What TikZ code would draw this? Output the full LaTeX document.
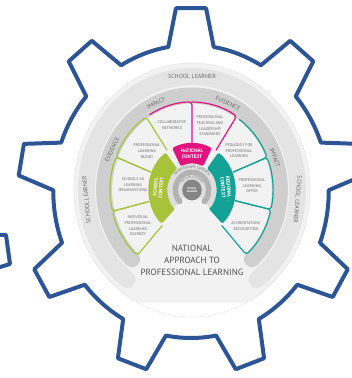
\documentclass[tikz,border=0pt]{standalone}
\usepackage{fontspec}
\setmainfont{PT Sans}
\usetikzlibrary{decorations.text}
\definecolor{gearblue}{HTML}{2D5596}
\definecolor{napgreen}{HTML}{A6C33A}
\definecolor{napmag}{HTML}{E2137F}
\definecolor{napteal}{HTML}{14A296}
\definecolor{ringdark}{HTML}{CFCFCF}
\definecolor{ringlight}{HTML}{E4E4E4}
\definecolor{discfill}{HTML}{F2F2F2}
\definecolor{hubdark}{HTML}{858585}
\definecolor{hubmid}{HTML}{B3B3B3}
\definecolor{hubpale}{HTML}{DEDEDE}
\definecolor{labelgray}{HTML}{6A6A6A}
\definecolor{titlegray}{HTML}{505050}

\tikzset{
  gearline/.style={draw=gearblue, line width=4pt, line join=round},
  petal/.style={line width=1.2pt, rounded corners=3pt, line cap=round},
  band/.style={line cap=round, line width=#1},
  ringtext/.style={font=\fontsize{6}{6.5}\selectfont, text=labelgray, inner sep=0pt},
  petaltext/.style={font=\fontsize{4}{5.6}\selectfont, text=labelgray, align=center, inner sep=0.5pt},
  contexttext/.style={font=\bfseries\fontsize{5}{5.6}\selectfont, text=white, align=center, inner sep=0.5pt},
}

\begin{document}
\begin{tikzpicture}[x=1pt,y=1pt]
\useasboundingbox (0,0) rectangle (352,378);

% the gear
\begin{scope}[shift={(191,186.5)}, xscale=0.94]
  \draw[gearline] (80.5:146.5) \foreach \t in {90,130,...,410} {
      -- (\t-9.5:146.5) -- (\t-5:184) -- (\t+5:184) -- (\t+9.5:146.5)
      arc[start angle=\t+9.5, end angle=\t+30.5, radius=146.5]} -- cycle;
\end{scope}
% piece of a second gear
\draw[gearline] (-3,143) -- (6,143) -- (10,114) -- (-3,110);

% disc and outer rings
\begin{scope}[shift={(192,188)}, xscale=0.93]
  \begin{scope}
    \clip (-130,-113) rectangle (130,130);
    \fill[discfill] (0,0) circle[radius=127];
  \end{scope}
  \draw[gray!45, densely dotted, line width=0.5pt] (0,0) circle[radius=127];
  \draw[ringlight, band=17pt] (-52:113.5) arc[start angle=-52, end angle=232, radius=113.5];
  \draw[ringdark, band=16pt] (-47:94.5) arc[start angle=-47, end angle=227, radius=94.5];

  \node[ringtext] (sltop) at (90:114) {SCHOOL LEARNER};
  \node[ringtext, rotate=95] (slleft) at (185:114) {SCHOOL LEARNER};
  \node[ringtext, rotate=-95] (slright) at (-5:114) {SCHOOL LEARNER};
  \node[ringtext, rotate=24] (impactl) at (114:95) {IMPACT};
  \node[ringtext, rotate=-24] (evidencer) at (66:95) {EVIDENCE};
  \node[ringtext, rotate=65] (evidencel) at (155:95) {EVIDENCE};
  \node[ringtext, rotate=-70] (impactr) at (20:95) {IMPACT};

  % hub
  \draw[hubpale, line width=6pt] (-42:23.5) arc[start angle=-42, end angle=222, radius=23.5];
  \draw[hubmid, band=6pt] (-40:17.5) arc[start angle=-40, end angle=220, radius=17.5];
  \draw[hubpale, line width=4.5pt] (-40:12.5) arc[start angle=-40, end angle=220, radius=12.5];
  \fill[hubdark] (0,0) circle[radius=10.5];

  % context blocks
  \fill[napgreen, rounded corners=1.5pt] (127:26.5) -- (127:47) arc[start angle=127, end angle=226, radius=47]
      -- (226:26.5) arc[start angle=226, end angle=127, radius=26.5] -- cycle;
  \fill[napmag, rounded corners=1.5pt] (63:26.5) -- (63:47) arc[start angle=63, end angle=117, radius=47]
      -- (117:26.5) arc[start angle=117, end angle=63, radius=26.5] -- cycle;
  \fill[napteal, rounded corners=1.5pt] (-46:26.5) -- (-46:47) arc[start angle=-46, end angle=53, radius=47]
      -- (53:26.5) arc[start angle=53, end angle=-46, radius=26.5] -- cycle;

  % petals
  \draw[napgreen, petal] (124:48) -- (124:88) arc[start angle=124, end angle=158, radius=88] -- (158:48);
  \draw[napgreen, petal] (158:48) -- (158:88) arc[start angle=158, end angle=194, radius=88] -- (194:48);
  \draw[napgreen, petal] (194:48) -- (194:88) arc[start angle=194, end angle=228, radius=88] -- (228:48);
  \draw[napmag, petal] (121:88) arc[start angle=121, end angle=90, radius=88] -- (90:47.5);
  \draw[napmag, petal] (90:88) arc[start angle=90, end angle=57, radius=88] -- (57:47.5);
  \draw[napteal, petal] (54:87) arc[start angle=54, end angle=22, radius=87] -- (22:48);
  \draw[napteal, petal] (22:48) -- (22:87) arc[start angle=22, end angle=-13, radius=87] -- (-13:48);
  \draw[napteal, petal] (-13:48) -- (-13:87) arc[start angle=-13, end angle=-48, radius=87] -- (-48:48);

  \node[contexttext] (natctx) at (90:36.5) {NATIONAL\\CONTEXT};
  \node[contexttext, rotate=85] (schctx) at (176:36.5) {SCHOOL\\CONTEXT};
  \node[contexttext, rotate=-85] (regctx) at (4:36.5) {REGIONAL\\CONTEXT};
  \node[font=\bfseries\fontsize{2.6}{3}\selectfont, text=white, align=center, inner sep=0pt] (hublearner) at (0,0) {SCHOOL\\LEARNER};
\end{scope}

% curved hub texts
\begin{scope}[shift={(192,188)}]
  \path[decorate, decoration={text along path, text align=center,
      text={|\fontsize{3.4}{3.4}\selectfont\color{labelgray}|PROFESSIONAL LEARNER}}]
      (178:22) arc[start angle=178, end angle=2, radius=22];
  \path[decorate, decoration={text along path, text align=center,
      text={|\fontsize{2.5}{2.5}\selectfont\color{labelgray}|THE FOUR PURPOSES}}]
      (185:11.8) arc[start angle=185, end angle=-5, radius=11.8];
\end{scope}

% petal labels
\node[petaltext] (collab) at (172,253) {COLLABORATIVE\\NETWORKS};
\node[petaltext] (ptls) at (210,252) {PROFESSIONAL\\TEACHING AND\\LEADERSHIP\\STANDARDS};
\node[petaltext] (blend) at (147,227) {PROFESSIONAL\\LEARNING\\BLEND};
\node[petaltext] (slo) at (133,193) {SCHOOLS AS\\LEARNING\\ORGANISATIONS};
\node[petaltext] (journey) at (138,152) {INDIVIDUAL\\PROFESSIONAL\\LEARNING\\JOURNEY};
\node[petaltext] (pedagogy) at (239,227) {PEDAGOGY FOR\\PROFESSIONAL\\LEARNING};
\node[petaltext] (offer) at (252,192) {PROFESSIONAL\\LEARNING\\OFFER};
\node[petaltext] (accred) at (246,152) {ACCREDITATION/\\RECOGNITION};

\node[font=\fontsize{9}{12}\selectfont, text=titlegray, align=center] (title) at (192,118)
  {NATIONAL\\APPROACH TO\\PROFESSIONAL LEARNING};
\end{tikzpicture}
\end{document}
